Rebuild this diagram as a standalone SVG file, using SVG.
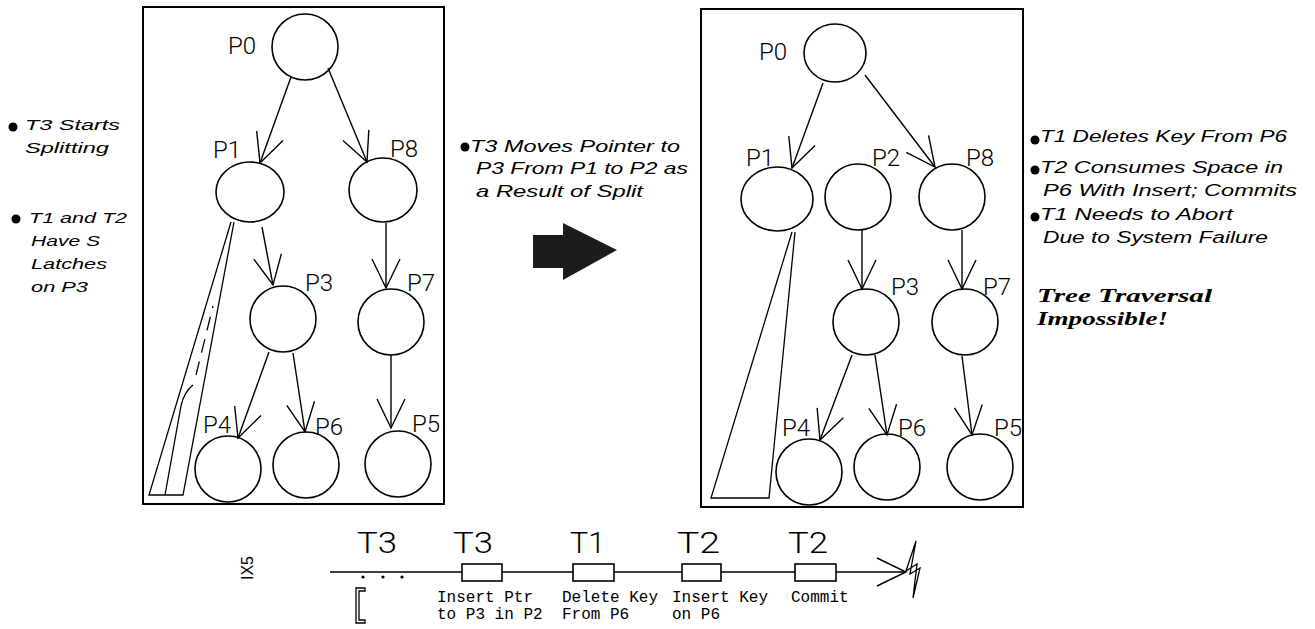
<svg xmlns="http://www.w3.org/2000/svg" width="1315" height="629" viewBox="0 0 1315 629">
<defs>
<marker id="vhead" markerUnits="userSpaceOnUse" markerWidth="60" markerHeight="60" refX="0" refY="0" viewBox="-40 -30 60 60" orient="auto" overflow="visible">
<path d="M-29,-14 L0,0 L-29,14" fill="none" stroke="#000" stroke-width="1.4"/>
</marker>
</defs>
<style>
.panel{fill:none;stroke:#000;stroke-width:2}
.node{fill:#fff;stroke:#000;stroke-width:1.6}
.edge{fill:none;stroke:#000;stroke-width:1.4;marker-end:url(#vhead)}
.lbl{font-family:Roboto,"Liberation Sans",sans-serif;font-weight:300;font-size:24px;fill:#000}
.note{font-family:"Liberation Sans","DejaVu Sans",sans-serif;font-style:italic;font-size:17px;fill:#000}
.noteL{font-family:"Liberation Sans","DejaVu Sans",sans-serif;font-style:italic;font-size:15.5px;fill:#000}
.serif{font-family:"Liberation Serif","DejaVu Serif",serif;font-style:italic;font-weight:bold;font-size:19px;fill:#000}
.tl{font-family:Roboto,"Liberation Sans",sans-serif;font-weight:300;font-size:29px;fill:#000}
.mono{font-family:"Liberation Mono","DejaVu Sans Mono",monospace;font-size:16px;fill:#000}
.box{fill:#fff;stroke:#000;stroke-width:1.6}
.thin{fill:none;stroke:#000;stroke-width:1.3}
</style>
<rect fill="#fff" x="0" y="0" width="1315" height="629"/>

<!-- panels -->
<rect class="panel" x="143" y="7" width="301" height="497"/>
<rect class="panel" x="701" y="9" width="322" height="498"/>

<!-- left tree -->
<g id="L-P0"><ellipse class="node" cx="305" cy="47" rx="33" ry="33"/><text class="lbl" x="228" y="54">P0</text></g>
<g id="L-P1"><ellipse class="node" cx="250" cy="192" rx="34" ry="30"/><text class="lbl" x="213" y="158">P1</text></g>
<g id="L-P8"><ellipse class="node" cx="383" cy="190" rx="34" ry="32"/><text class="lbl" x="390" y="157">P8</text></g>
<g id="L-P3"><ellipse class="node" cx="283" cy="319" rx="33" ry="33"/><text class="lbl" x="305" y="291">P3</text></g>
<g id="L-P7"><ellipse class="node" cx="391" cy="322" rx="33" ry="33"/><text class="lbl" x="407" y="291">P7</text></g>
<g id="L-P4"><ellipse class="node" cx="228" cy="469" rx="33" ry="33"/><text class="lbl" x="203" y="433">P4</text></g>
<g id="L-P6"><ellipse class="node" cx="306" cy="465" rx="33" ry="33"/><text class="lbl" x="315" y="435">P6</text></g>
<g id="L-P5"><ellipse class="node" cx="398" cy="464" rx="33" ry="33"/><text class="lbl" x="412" y="432">P5</text></g>
<g id="L-subtree">
<path class="thin" d="M231,222 L149,495 L183,495 L234,222"/>
<path class="thin" d="M165,495 L181,406 Q184,392 193,385"/>
<path class="thin" d="M196,375 L213,306" stroke-dasharray="14,9"/>
</g>

<!-- right tree -->
<g id="R-P0"><ellipse class="node" cx="835" cy="53" rx="31" ry="29"/><text class="lbl" x="759" y="60">P0</text></g>
<g id="R-P1"><ellipse class="node" cx="777" cy="199" rx="36" ry="32"/><text class="lbl" x="746" y="166">P1</text></g>
<g id="R-P2"><ellipse class="node" cx="858" cy="197" rx="33" ry="33"/><text class="lbl" x="872" y="166">P2</text></g>
<g id="R-P8"><ellipse class="node" cx="952" cy="197" rx="33" ry="33"/><text class="lbl" x="966" y="166">P8</text></g>
<g id="R-P3"><ellipse class="node" cx="866" cy="322" rx="33" ry="33"/><text class="lbl" x="891" y="295">P3</text></g>
<g id="R-P7"><ellipse class="node" cx="965" cy="322" rx="33" ry="33"/><text class="lbl" x="983" y="295">P7</text></g>
<g id="R-P4"><ellipse class="node" cx="809" cy="472" rx="33" ry="33"/><text class="lbl" x="782" y="436">P4</text></g>
<g id="R-P6"><ellipse class="node" cx="887" cy="467" rx="33" ry="33"/><text class="lbl" x="898" y="436">P6</text></g>
<g id="R-P5"><ellipse class="node" cx="980" cy="467" rx="33" ry="33"/><text class="lbl" x="994" y="436">P5</text></g>
<g id="R-subtree">
<path class="thin" d="M792,232 L711,498 L769,498 L795,232"/>
</g>

<!-- connectors -->
<g id="connectors">
<line class="edge" x1="291" y1="77" x2="260" y2="163"/>
<line class="edge" x1="328" y1="68" x2="367" y2="162"/>
<line class="edge" x1="262" y1="227" x2="273" y2="285"/>
<line class="edge" x1="386" y1="223" x2="386" y2="288"/>
<line class="edge" x1="269" y1="352" x2="238" y2="438"/>
<line class="edge" x1="293" y1="353" x2="305" y2="432"/>
<line class="edge" x1="391" y1="355" x2="391" y2="428"/>
<line class="edge" x1="823" y1="83" x2="792" y2="168"/>
<line class="edge" x1="865" y1="75" x2="935" y2="167"/>
<line class="edge" x1="862" y1="230" x2="862" y2="289"/>
<line class="edge" x1="962" y1="230" x2="962" y2="289"/>
<line class="edge" x1="852" y1="355" x2="820" y2="440"/>
<line class="edge" x1="875" y1="355" x2="887" y2="435"/>
<line class="edge" x1="962" y1="356" x2="972" y2="435"/>
<line class="edge" x1="330" y1="572" x2="906" y2="572"/>
</g>

<!-- left notes -->
<g id="left-notes">
<circle cx="13" cy="127" r="4.5"/>
<text class="noteL" x="25" y="130" textLength="95" lengthAdjust="spacingAndGlyphs">T3 Starts</text>
<text class="noteL" x="25" y="153" textLength="84" lengthAdjust="spacingAndGlyphs">Splitting</text>
<circle cx="16" cy="219" r="4.5"/>
<text class="noteL" x="29" y="223" textLength="98" lengthAdjust="spacingAndGlyphs">T1 and T2</text>
<text class="noteL" x="31" y="246" textLength="69" lengthAdjust="spacingAndGlyphs">Have S</text>
<text class="noteL" x="31" y="269" textLength="76" lengthAdjust="spacingAndGlyphs">Latches</text>
<text class="noteL" x="31" y="292" textLength="57" lengthAdjust="spacingAndGlyphs">on P3</text>
</g>

<!-- middle note and arrow -->
<g id="middle-note">
<circle cx="465" cy="147" r="4.5"/>
<text class="note" x="470" y="152" textLength="210" lengthAdjust="spacingAndGlyphs">T3 Moves Pointer to</text>
<text class="note" x="476" y="174" textLength="212" lengthAdjust="spacingAndGlyphs">P3 From P1 to P2 as</text>
<text class="note" x="476" y="197" textLength="167" lengthAdjust="spacingAndGlyphs">a Result of Split</text>
</g>
<g id="big-arrow">
<polygon points="533,235 563,235 563,223 617,250 563,280 563,268 533,268" fill="#1c1c1c"/>
</g>

<!-- right notes -->
<g id="right-notes">
<circle cx="1035" cy="140" r="4.5"/>
<text class="note" x="1040" y="142" textLength="247" lengthAdjust="spacingAndGlyphs">T1 Deletes Key From P6</text>
<circle cx="1035" cy="170" r="4.5"/>
<text class="note" x="1040" y="173" textLength="243" lengthAdjust="spacingAndGlyphs">T2 Consumes Space in</text>
<text class="note" x="1043" y="196" textLength="254" lengthAdjust="spacingAndGlyphs">P6 With Insert; Commits</text>
<circle cx="1035" cy="217" r="4.5"/>
<text class="note" x="1040" y="220" textLength="193" lengthAdjust="spacingAndGlyphs">T1 Needs to Abort</text>
<text class="note" x="1043" y="243" textLength="225" lengthAdjust="spacingAndGlyphs">Due to System Failure</text>
<text class="serif" x="1037" y="302" textLength="175" lengthAdjust="spacingAndGlyphs">Tree Traversal</text>
<text class="serif" x="1037" y="325" textLength="131" lengthAdjust="spacingAndGlyphs">Impossible!</text>
</g>

<!-- timeline -->
<g id="timeline">
<text x="0" y="0" transform="translate(253,568) rotate(-90)" style="font-family:'Liberation Sans','DejaVu Sans',sans-serif;font-size:16px" text-anchor="middle">IX5</text>
<circle cx="363" cy="577" r="1.6"/>
<circle cx="383" cy="577" r="1.6"/>
<circle cx="402" cy="577" r="1.6"/>
<path class="thin" d="M365,588 L356,588 L356,623 L365,623 L365,620 L359,620 L359,591 L365,591 Z"/>
<text class="tl" x="357" y="553" textLength="40" lengthAdjust="spacingAndGlyphs">T3</text>
<g id="ev1"><rect class="box" x="462" y="564" width="40" height="17"/><text class="tl" x="453" y="553" textLength="40" lengthAdjust="spacingAndGlyphs">T3</text>
<text class="mono" x="437" y="602">Insert Ptr</text><text class="mono" x="437" y="619">to P3 in P2</text></g>
<g id="ev2"><rect class="box" x="573" y="564" width="41" height="17"/><text class="tl" x="570" y="553" textLength="35" lengthAdjust="spacingAndGlyphs">T1</text>
<text class="mono" x="562" y="602">Delete Key</text><text class="mono" x="562" y="619">From P6</text></g>
<g id="ev3"><rect class="box" x="682" y="564" width="39" height="17"/><text class="tl" x="677" y="553" textLength="43" lengthAdjust="spacingAndGlyphs">T2</text>
<text class="mono" x="672" y="602">Insert Key</text><text class="mono" x="672" y="619">on P6</text></g>
<g id="ev4"><rect class="box" x="795" y="564" width="41" height="17"/><text class="tl" x="788" y="553" textLength="40" lengthAdjust="spacingAndGlyphs">T2</text>
<text class="mono" x="791" y="602">Commit</text></g>
<path class="thin" d="M916,541 L906,571 L917,564 L913,598 L920,568 L910,574 Z" stroke-width="1.5"/>
</g>
</svg>
